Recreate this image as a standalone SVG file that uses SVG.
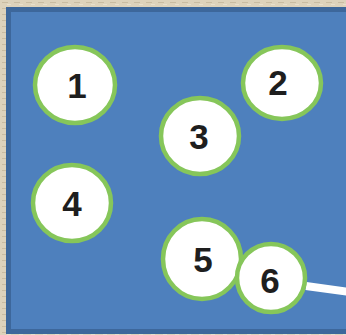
<svg xmlns="http://www.w3.org/2000/svg" width="346" height="335" viewBox="0 0 346 335">
<defs>
<style>
.n ellipse{fill:#fff;stroke:#86c65a;stroke-width:4.5}
.n text{font-family:"Liberation Sans",Arial,sans-serif;font-weight:bold;font-size:35px;fill:#1e1e1e;text-anchor:middle}
</style>
<pattern id="tex" width="12" height="6" patternUnits="userSpaceOnUse">
<rect width="12" height="6" fill="#ddd2bb"/>
<rect x="2" y="2" width="6" height="1" fill="#c9bca2"/>
<rect x="7" y="4" width="4" height="1" fill="#e8dfcc"/>
</pattern>
</defs>
<rect width="346" height="335" fill="url(#tex)"/>
<rect x="8.5" y="9.5" width="345" height="322" fill="#4e80bd" stroke="#3d679b" stroke-width="5"/>
<g id="connectors">
<line x1="306" y1="286" x2="350" y2="292" stroke="#fff" stroke-width="8"/>
</g>
<g id="n1" class="n"><ellipse cx="75" cy="85" rx="40" ry="38"/><text x="77" y="98">1</text></g>
<g id="n2" class="n"><ellipse cx="282" cy="83" rx="39" ry="36"/><text x="278" y="95">2</text></g>
<g id="n3" class="n"><ellipse cx="200" cy="136" rx="39" ry="38"/><text x="199" y="149">3</text></g>
<g id="n4" class="n"><ellipse cx="72" cy="203" rx="39" ry="38"/><text x="72" y="216">4</text></g>
<g id="n5" class="n"><ellipse cx="202" cy="259" rx="39" ry="40"/><text x="203" y="272">5</text></g>
<g id="n6" class="n"><ellipse cx="271" cy="278" rx="34" ry="34"/><text x="270" y="293">6</text></g>
</svg>
